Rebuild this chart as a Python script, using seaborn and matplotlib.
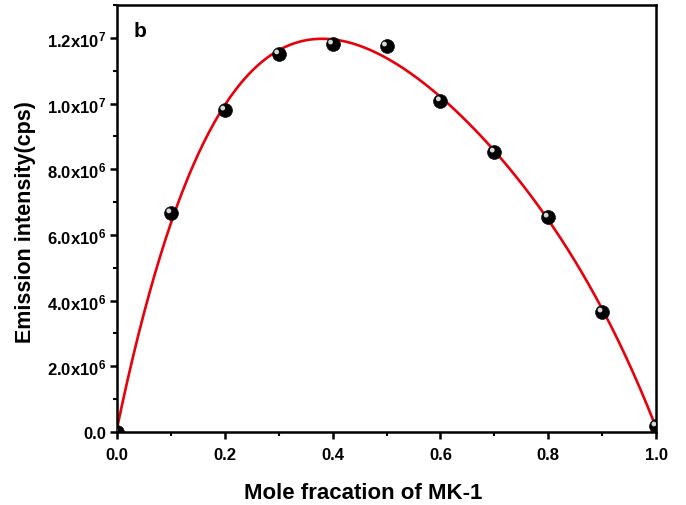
import numpy as np
import pandas as pd
import matplotlib
matplotlib.use("Agg")
import matplotlib.pyplot as plt
import matplotlib.transforms as mtransforms
from matplotlib.ticker import FuncFormatter, MultipleLocator, AutoMinorLocator
import seaborn as sns

# data
mole_fraction = [0.0, 0.1, 0.2, 0.3, 0.4, 0.5, 0.6, 0.7, 0.8, 0.9, 1.0]
intensity = [0.0, 6.67e6, 9.80e6, 11.51e6, 11.81e6, 11.75e6,
             10.08e6, 8.52e6, 6.54e6, 3.65e6, 0.18e6]

y_ticks = [0.0, 2e6, 4e6, 6e6, 8e6, 1.0e7, 1.2e7]

sns.set_style("ticks")
plt.rcParams["font.family"] = ["Liberation Sans", "DejaVu Sans"]
plt.rcParams["font.weight"] = "bold"
plt.rcParams["text.color"] = "black"
plt.rcParams["axes.labelcolor"] = "black"
plt.rcParams["mathtext.fontset"] = "custom"
plt.rcParams["mathtext.rm"] = "Liberation Sans:bold"
plt.rcParams["mathtext.it"] = "Liberation Sans:bold"
plt.rcParams["mathtext.bf"] = "Liberation Sans:bold"

df = pd.DataFrame({"x": mole_fraction, "y": intensity})

# polynomial fit for the red curve
coef = np.polyfit(df["x"], df["y"], 4)
xs = np.linspace(0, 1, 300)
fit = pd.DataFrame({"x": xs, "y": np.polyval(coef, xs)})

fig = plt.figure(figsize=(6.86, 5.06), dpi=100)
ax = fig.add_axes([0.1706, 0.1443, 0.7857, 0.8437])

sns.lineplot(data=fit, x="x", y="y", ax=ax, color="#e8000b", linewidth=1.9, zorder=2)
sns.scatterplot(data=df, x="x", y="y", ax=ax, color="black", s=100,
                edgecolor="#111111", linewidth=0.5, zorder=3)
# small highlight to look like a shiny sphere
hl = ax.transData + mtransforms.ScaledTranslation(-1.5 / 72, 1.5 / 72, fig.dpi_scale_trans)
ax.scatter(df["x"], df["y"], s=12, color="#d8d8d8", edgecolor="none",
           transform=hl, zorder=4)

ax.set_xlim(0, 1.0)
ax.set_ylim(0, 1.3e7)
ax.xaxis.set_major_locator(MultipleLocator(0.2))
ax.xaxis.set_minor_locator(AutoMinorLocator(2))
ax.set_yticks(y_ticks)
ax.yaxis.set_minor_locator(AutoMinorLocator(2))


def sci_fmt(v, pos):
    if v == 0:
        return "0.0"
    exp = int(np.floor(np.log10(abs(v))))
    mant = v / 10 ** exp
    return r"%.1fx10$^{%d}$" % (mant, exp)


ax.yaxis.set_major_formatter(FuncFormatter(sci_fmt))
ax.xaxis.set_major_formatter(FuncFormatter(lambda v, p: "%.1f" % v))

for s in ax.spines.values():
    s.set_linewidth(1.8)
    s.set_color("black")
ax.tick_params(which="major", direction="out", length=5, width=1.8,
               labelsize=12, colors="black", labelcolor="black")
ax.tick_params(axis="x", which="major", pad=6)
ax.tick_params(axis="y", which="major", pad=3)
ax.tick_params(which="minor", direction="out", length=3, width=1.5, colors="black")
for lab in ax.get_xticklabels() + ax.get_yticklabels():
    lab.set_fontweight("bold")

ax.set_xlabel("Mole fracation of MK-1", fontsize=16, fontweight="bold")
ax.set_ylabel("Emission intensity(cps)", fontsize=15.5, fontweight="bold")
ax.xaxis.set_label_coords(0.457, -0.118)
ax.yaxis.set_label_coords(-0.150, 0.494)
ax.text(0.03, 0.94, "b", transform=ax.transAxes, fontsize=15,
        fontweight="bold", va="center", ha="left")

fig.savefig("out.png", dpi=100)
